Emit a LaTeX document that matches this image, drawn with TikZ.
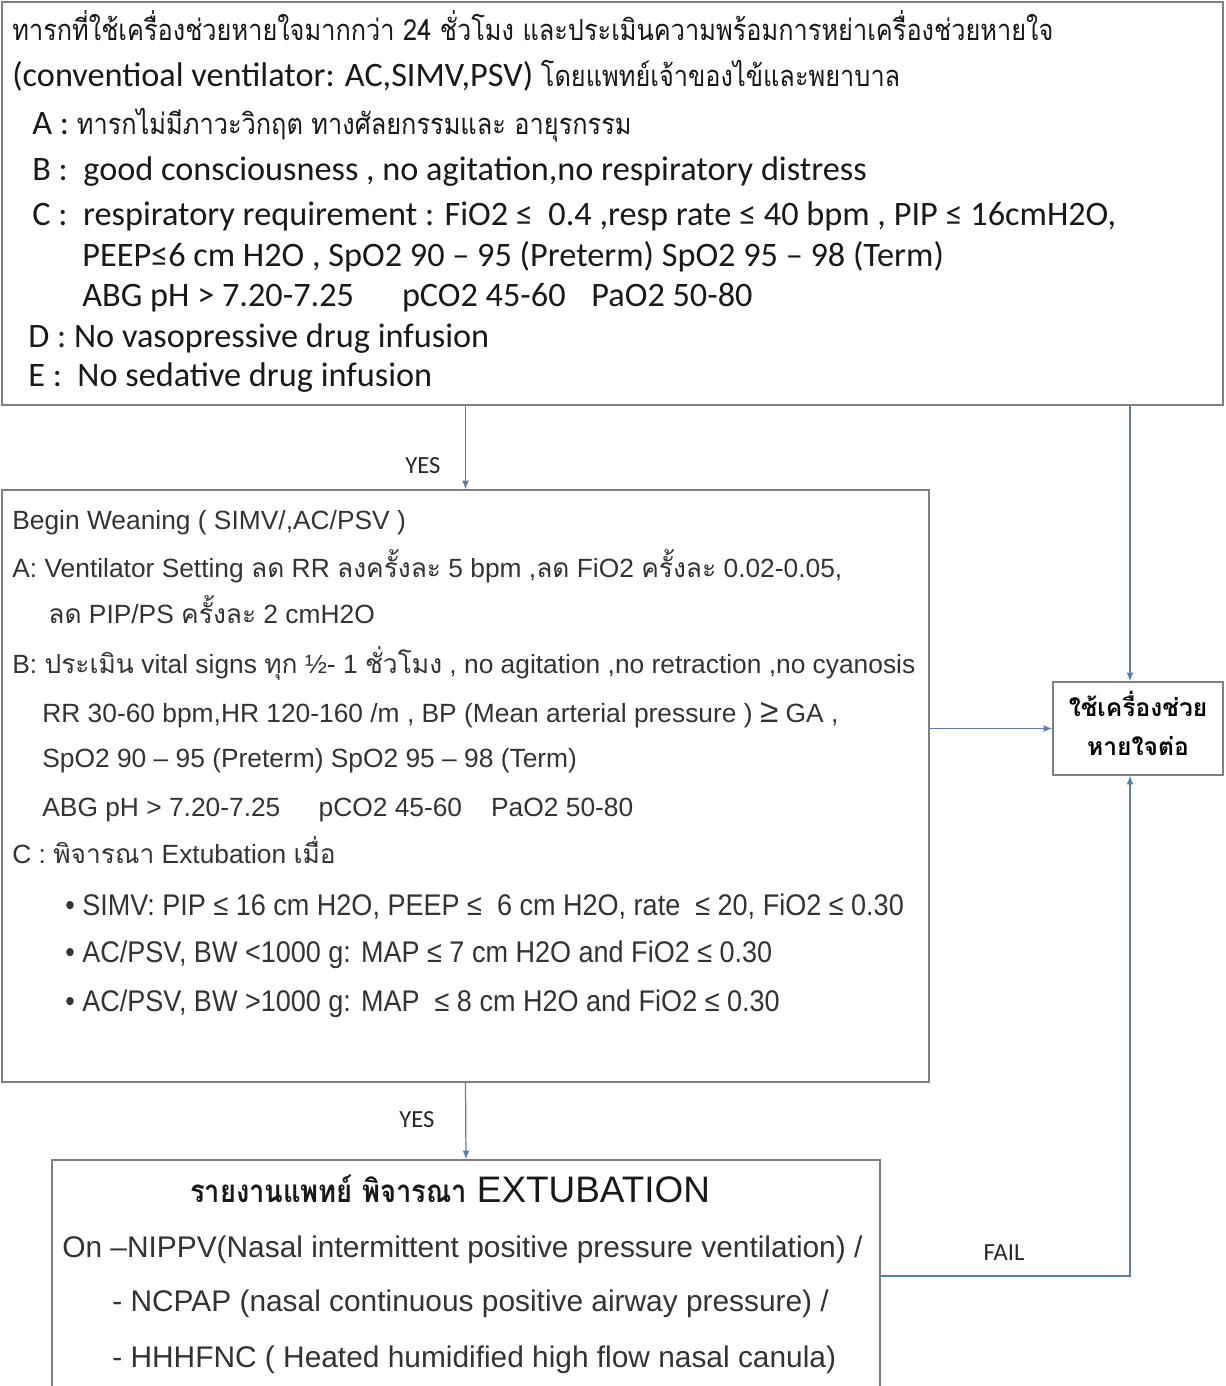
\documentclass[tikz,border=0pt]{standalone}
\usepackage{fontspec}
\setmainfont{Carlito}
\newfontfamily\arialf{Liberation Sans}
\newfontfamily\narrowf[FakeStretch=0.905]{Liberation Sans}
\newfontfamily\thai[Script=Thai]{Loma}
\newfontfamily\thaism[Script=Thai,Scale=0.85,FakeStretch=0.87]{Loma}
\usetikzlibrary{arrows.meta,fit}
\definecolor{boxgray}{HTML}{7F7F7F}
\definecolor{linkblue}{HTML}{5B7DB1}
\definecolor{inkgray}{HTML}{333333}

\begin{document}
\begin{tikzpicture}[x=0.02cm, y=-0.02cm, >={Latex[length=5pt,width=4pt]},
  box/.style={draw=boxgray, line width=0.8pt, inner sep=0pt},
  flow/.style={->, draw=linkblue, line width=0.7pt},
  crittxt/.style={anchor=base west, inner sep=0pt, text=black!90,
    font=\fontsize{19.5}{22}\selectfont},
  weantxt/.style={anchor=base west, inner sep=0pt, text=inkgray,
    font=\arialf\fontsize{15}{18}\selectfont},
  bultxt/.style={anchor=base west, inner sep=0pt, text=inkgray,
    font=\narrowf\fontsize{17}{20}\selectfont},
  extxt/.style={anchor=base west, inner sep=0pt, text=inkgray,
    font=\arialf\fontsize{17}{20}\selectfont},
  lbl/.style={inner sep=0pt, text=black!85, font=\fontsize{14}{16}\selectfont}]
  \useasboundingbox (0,0) rectangle (1226,1386);
  \clip (0,0) rectangle (1226,1386);

  % Kryteria gotowosci
  \node[box, fit={(2,2) (1223,405)}] (crit) {};
  \node[crittxt] (c1) at (12,40) {\thaism ทารกที่ใช้เครื่องช่วยหายใจมากกว่า 24 ชั่วโมง และประเมินความพร้อมการหย่าเครื่องช่วยหายใจ};
  \node[crittxt] (c2) at (12,86) {(conventioal ventilator: AC,SIMV,PSV) {\thaism โดยแพทย์เจ้าของไข้และพยาบาล}};
  \node[crittxt] (c3) at (32,134) {A : {\thaism ทารกไม่มีภาวะวิกฤต ทางศัลยกรรมและ อายุรกรรม}};
  \node[crittxt] (c4) at (32,180) {B :\ \ good consciousness , no agitation,no respiratory distress};
  \node[crittxt] (c5) at (32,225) {C :\ \ respiratory requirement : FiO2 ≤\ \ 0.4 ,resp rate ≤ 40 bpm , PIP ≤ 16cmH2O,};
  \node[crittxt] (c6) at (82,266) {PEEP≤6 cm H2O , SpO2 90 – 95 (Preterm) SpO2 95 – 98 (Term)};
  \node[crittxt] (c7) at (82,306) {ABG pH > 7.20-7.25\hspace{1.4em}pCO2 45-60\hspace{0.75em}PaO2 50-80};
  \node[crittxt] (c8) at (28,347) {D : No vasopressive drug infusion};
  \node[crittxt] (c9) at (28,386) {E :\ \ No sedative drug infusion};

  % Odstawianie
  \node[box, fit={(2,490) (929,1082)}] (wean) {};
  \node[weantxt] (w1) at (12,529) {Begin Weaning ( SIMV/,AC/PSV )};
  \node[weantxt] (w2) at (12,577) {A: Ventilator Setting {\thai ลด} RR {\thai ลงครั้งละ} 5 bpm ,{\thai ลด} FiO2 {\thai ครั้งละ} 0.02-0.05,};
  \node[weantxt] (w3) at (48,623) {{\thai ลด} PIP/PS {\thai ครั้งละ} 2 cmH2O};
  \node[weantxt] (w4) at (12,673) {B: {\thai ประเมิน} vital signs {\thai ทุก} ½- 1 {\thai ชั่วโมง} , no agitation ,no retraction ,no cyanosis};
  \node[weantxt] (w5) at (42,722) {RR 30-60 bpm,HR 120-160 /m , BP (Mean arterial pressure ) {\fontsize{19}{19}\selectfont ≥} GA ,};
  \node[weantxt] (w6) at (42,767) {SpO2 90 – 95 (Preterm) SpO2 95 – 98 (Term)};
  \node[weantxt] (w7) at (42,816) {ABG pH > 7.20-7.25\hspace{1.45em}pCO2 45-60\hspace{1.1em}PaO2 50-80};
  \node[weantxt] (w8) at (12,863) {C : {\thai พิจารณา} Extubation {\thai เมื่อ}};
  \node[bultxt] (w9) at (65,915) {• SIMV: PIP ≤ 16 cm H2O, PEEP ≤\ \ 6 cm H2O, rate\ \ ≤ 20, FiO2 ≤ 0.30};
  \node[bultxt] (w10) at (65,962) {• AC/PSV, BW <1000 g: MAP ≤ 7 cm H2O and FiO2 ≤ 0.30};
  \node[bultxt] (w11) at (65,1011) {• AC/PSV, BW >1000 g: MAP\ \ ≤ 8 cm H2O and FiO2 ≤ 0.30};

  % Dalsza wentylacja
  \node[box, fit={(1053,682) (1223,775)}] (cont) {};
  \node[anchor=base, inner sep=0pt, font=\thai\bfseries\fontsize{14}{17}\selectfont]
    (k1) at (1138,716) {ใช้เครื่องช่วย};
  \node[anchor=base, inner sep=0pt, font=\thai\bfseries\fontsize{14}{17}\selectfont]
    (k2) at (1138,755) {หายใจต่อ};

  % Ekstubacja
  \node[box, fit={(52,1160) (880,1420)}] (extub) {};
  \node[anchor=base, inner sep=0pt, text=black!90, font=\arialf\fontsize{21}{25}\selectfont]
    (e0) at (450,1202) {{\thaism\bfseries รายงานแพทย์ พิจารณา} EXTUBATION};
  \node[extxt] (e1) at (62,1257) {On –NIPPV(Nasal intermittent positive pressure ventilation) /};
  \node[extxt] (e2) at (112,1311) {- NCPAP (nasal continuous positive airway pressure) /};
  \node[extxt] (e3) at (112,1367) {- HHHFNC ( Heated humidified high flow nasal canula)};

  % Polaczenia
  \coordinate (rail) at (1130,0);
  \coordinate (failpt) at (880,1276);
  \draw[flow] (crit.south -| wean.north) -- (wean.north);
  \draw[flow] (crit.south -| rail) -- (cont.north -| rail);
  \draw[flow] (wean.east |- cont.west) -- (cont.west);
  \draw[flow] (wean.south) -- (extub.north);
  \draw[flow] (failpt) -| (cont.south -| rail);

  \node[lbl] (yes1) at (423,466) {YES};
  \node[lbl] (yes2) at (417,1120) {YES};
  \node[lbl] (fail) at (1004,1253) {FAIL};
\end{tikzpicture}
\end{document}
